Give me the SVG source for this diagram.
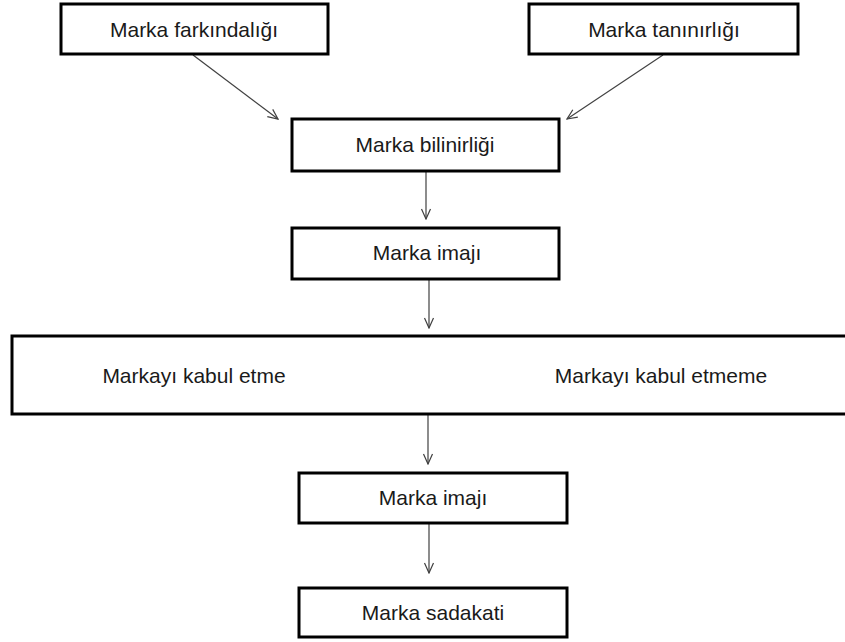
<svg xmlns="http://www.w3.org/2000/svg" width="845" height="642" viewBox="0 0 845 642">
  <style>
    .box { fill: #ffffff; stroke: #000000; stroke-width: 3; }
    .label { font-family: "Liberation Sans", Arial, sans-serif; font-size: 21px; fill: #1a1a1a; text-anchor: middle; }
    .edge { stroke: #404040; stroke-width: 1.2; fill: none; marker-end: url(#arrow); }
  </style>
  <defs>
    <marker id="arrow" markerUnits="userSpaceOnUse" markerWidth="12" markerHeight="12" viewBox="0 0 12 12" refX="11" refY="6" orient="auto">
      <path d="M1,1.5 L11,6 L1,10.5" fill="none" stroke="#404040" stroke-width="1.2"/>
    </marker>
  </defs>
  <rect width="845" height="642" fill="#ffffff"/>

  <g id="connectors">
    <line class="edge" x1="193" y1="55" x2="278" y2="119"/>
    <line class="edge" x1="663" y1="55" x2="567" y2="119"/>
    <line class="edge" x1="426" y1="171" x2="426" y2="219"/>
    <line class="edge" x1="429" y1="279" x2="429" y2="328"/>
    <line class="edge" x1="428" y1="414" x2="428" y2="464"/>
    <line class="edge" x1="429" y1="523" x2="429" y2="573"/>
  </g>

  <g id="marka-farkindaligi">
    <rect class="box" x="61" y="4" width="267" height="50"/>
    <text class="label" x="194" y="37">Marka farkındalığı</text>
  </g>
  <g id="marka-taninirligi">
    <rect class="box" x="529" y="4" width="269" height="50"/>
    <text class="label" x="664" y="37">Marka tanınırlığı</text>
  </g>
  <g id="marka-bilinirligi">
    <rect class="box" x="292" y="119" width="267" height="52"/>
    <text class="label" x="425" y="152">Marka bilinirliği</text>
  </g>
  <g id="marka-imaji-1">
    <rect class="box" x="292" y="228" width="267" height="51"/>
    <text class="label" x="427" y="260">Marka imajı</text>
  </g>
  <g id="kabul">
    <rect class="box" x="12" y="336" width="840" height="78"/>
    <text class="label" x="194" y="383">Markayı kabul etme</text>
    <text class="label" x="661" y="383">Markayı kabul etmeme</text>
  </g>
  <g id="marka-imaji-2">
    <rect class="box" x="299" y="473" width="268" height="50"/>
    <text class="label" x="433" y="505">Marka imajı</text>
  </g>
  <g id="marka-sadakati">
    <rect class="box" x="299" y="588" width="268" height="49"/>
    <text class="label" x="433" y="620">Marka sadakati</text>
  </g>
</svg>
